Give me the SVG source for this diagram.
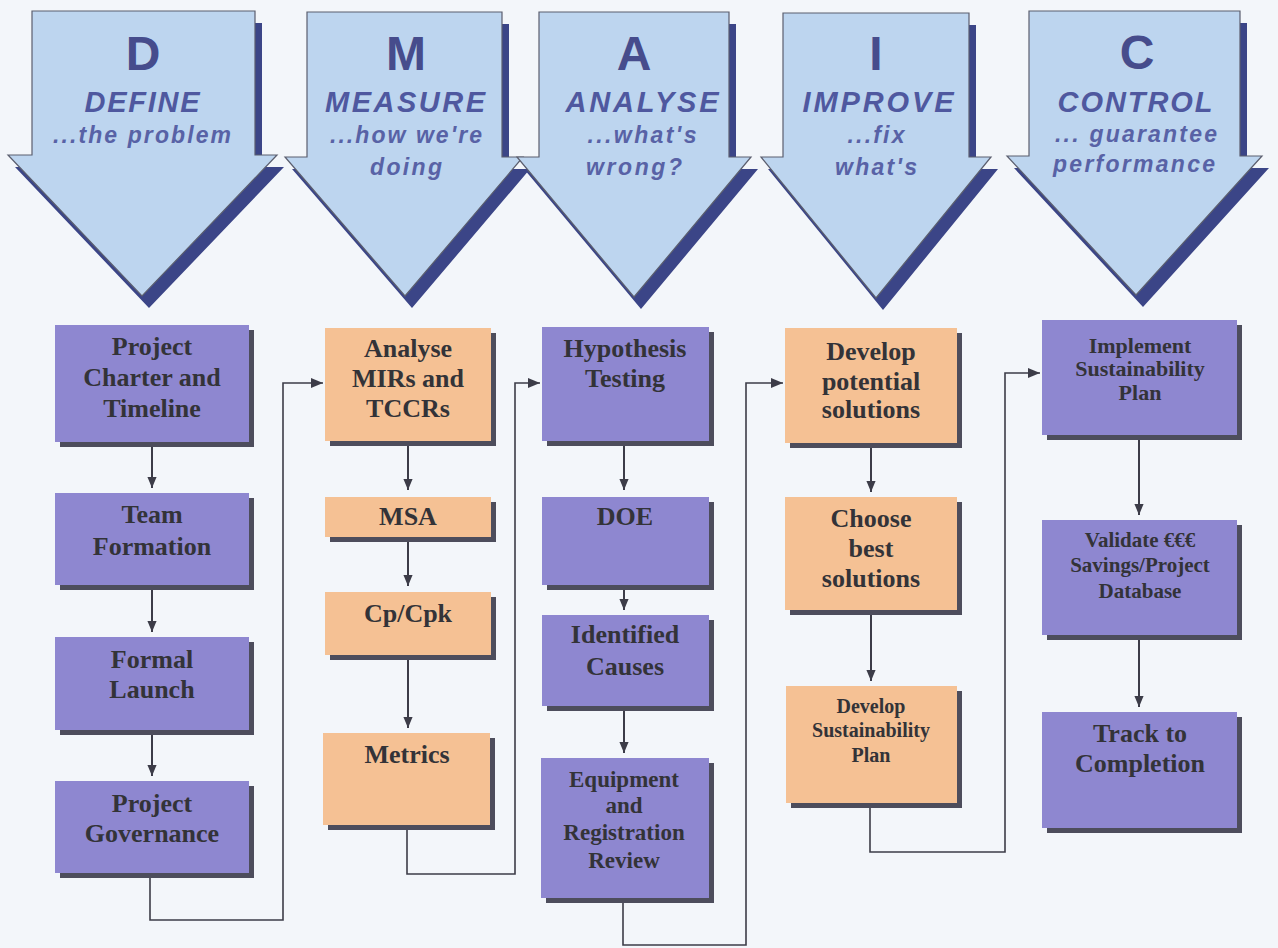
<svg xmlns="http://www.w3.org/2000/svg" width="1278" height="948" viewBox="0 0 1278 948">
<style>
.bg{fill:#f3f6fa}
.arr{fill:#bdd5ef;stroke:#5b5e6e;stroke-width:1.2}
.ash{fill:#3b4587}
.big{font-family:"Liberation Sans",Arial,sans-serif;font-weight:bold;font-size:48px;fill:#464c8c;text-anchor:middle}
.ttl{font-family:"Liberation Sans",Arial,sans-serif;font-weight:bold;font-style:italic;font-size:29px;fill:#4f589f;text-anchor:middle}
.sub{font-family:"Liberation Sans",Arial,sans-serif;font-weight:bold;font-style:italic;font-size:23px;fill:#5862a6;text-anchor:middle}
.pu{fill:#8e87d0}
.or{fill:#f5c194}
.sh{fill:#4d4d5c}
.bt{font-family:"Liberation Serif","Times New Roman",serif;font-weight:bold;font-size:26px;fill:#333338;text-anchor:middle}
.s23{font-size:23px}
.s22{font-size:22px}
.s21{font-size:21px}
.s20{font-size:20px}
.ln{fill:none;stroke:#3c3c48;stroke-width:1.6}
.vl{fill:none;stroke:#3c3c48;stroke-width:2}
</style>
<defs>
<marker id="ah" viewBox="0 0 12 10" refX="12" refY="5" markerWidth="12" markerHeight="10" markerUnits="userSpaceOnUse" orient="auto">
<path d="M0,0 L12,5 L0,10 z" fill="#3c3c48"/>
</marker>
<marker id="av" viewBox="0 0 12 10" refX="12" refY="5" markerWidth="11" markerHeight="11" markerUnits="userSpaceOnUse" orient="auto">
<path d="M0,0 L12,5 L0,10 z" fill="#3c3c48"/>
</marker>
</defs>
<rect class="bg" x="0" y="0" width="1278" height="948"/>

<g id="phase-D">
<polygon class="ash" transform="translate(7,12)" points="32,11 255,11 255,155 277,155 142,296 8,155 32,155"/>
<polygon class="arr" points="32,11 255,11 255,155 277,155 142,296 8,155 32,155"/>
<text class="big" x="143" y="70">D</text>
<text class="ttl" x="142" y="112" textLength="115" lengthAdjust="spacing">DEFINE</text>
<text class="sub" x="142" y="143" textLength="178" lengthAdjust="spacing">...the problem</text>
</g>
<g id="phase-M">
<polygon class="ash" transform="translate(7,12)" points="307,12 502,12 502,157 523,157 405,296 285,157 307,157"/>
<polygon class="arr" points="307,12 502,12 502,157 523,157 405,296 285,157 307,157"/>
<text class="big" x="406" y="70">M</text>
<text class="ttl" x="405" y="112" textLength="160" lengthAdjust="spacing">MEASURE</text>
<text class="sub" x="406" y="143" textLength="152" lengthAdjust="spacing">...how we're</text>
<text class="sub" x="406" y="175" textLength="72" lengthAdjust="spacing">doing</text>
</g>
<g id="phase-A">
<polygon class="ash" transform="translate(7,12)" points="539,12 729,12 729,157 751,157 634,297 517,157 539,157"/>
<polygon class="arr" points="539,12 729,12 729,157 751,157 634,297 517,157 539,157"/>
<text class="big" x="634" y="70">A</text>
<text class="ttl" x="642" y="112" textLength="153" lengthAdjust="spacing">ANALYSE</text>
<text class="sub" x="642" y="143" textLength="109" lengthAdjust="spacing">...what's</text>
<text class="sub" x="634" y="175" textLength="96" lengthAdjust="spacing">wrong?</text>
</g>
<g id="phase-I">
<polygon class="ash" transform="translate(7,12)" points="783,13 969,13 969,157 991,157 876,298 761,157 783,157"/>
<polygon class="arr" points="783,13 969,13 969,157 991,157 876,298 761,157 783,157"/>
<text class="big" x="876" y="70">I</text>
<text class="ttl" x="878" y="112" textLength="151" lengthAdjust="spacing">IMPROVE</text>
<text class="sub" x="876" y="143" textLength="57" lengthAdjust="spacing">...fix</text>
<text class="sub" x="876" y="175" textLength="82" lengthAdjust="spacing">what's</text>
</g>
<g id="phase-C">
<polygon class="ash" transform="translate(7,12)" points="1029,11 1240,11 1240,156 1262,156 1136,295 1007,156 1029,156"/>
<polygon class="arr" points="1029,11 1240,11 1240,156 1262,156 1136,295 1007,156 1029,156"/>
<text class="big" x="1137" y="69">C</text>
<text class="ttl" x="1135" y="112" textLength="155" lengthAdjust="spacing">CONTROL</text>
<text class="sub" x="1136" y="142" textLength="162" lengthAdjust="spacing">... guarantee</text>
<text class="sub" x="1134" y="172" textLength="162" lengthAdjust="spacing">performance</text>
</g>

<g id="connectors">
<line class="vl" x1="152" y1="447" x2="152" y2="488" marker-end="url(#av)"/>
<line class="vl" x1="152" y1="590" x2="152" y2="632" marker-end="url(#av)"/>
<line class="vl" x1="152" y1="735" x2="152" y2="776" marker-end="url(#av)"/>
<line class="vl" x1="408" y1="446" x2="408" y2="490" marker-end="url(#av)"/>
<line class="vl" x1="408" y1="541" x2="408" y2="586" marker-end="url(#av)"/>
<line class="vl" x1="408" y1="660" x2="408" y2="728" marker-end="url(#av)"/>
<line class="vl" x1="624" y1="446" x2="624" y2="490" marker-end="url(#av)"/>
<line class="vl" x1="624" y1="590" x2="624" y2="610" marker-end="url(#av)"/>
<line class="vl" x1="624" y1="711" x2="624" y2="753" marker-end="url(#av)"/>
<line class="vl" x1="871" y1="448" x2="871" y2="492" marker-end="url(#av)"/>
<line class="vl" x1="871" y1="615" x2="871" y2="681" marker-end="url(#av)"/>
<line class="vl" x1="1139" y1="440" x2="1139" y2="515" marker-end="url(#av)"/>
<line class="vl" x1="1139" y1="640" x2="1139" y2="707" marker-end="url(#av)"/>
<path class="ln" d="M150,878 V920 H283 V383 H323" marker-end="url(#ah)"/>
<path class="ln" d="M407,830 V874 H515 V383 H540" marker-end="url(#ah)"/>
<path class="ln" d="M623,903 V945 H746 V383 H783" marker-end="url(#ah)"/>
<path class="ln" d="M870,808 V852 H1005 V373 H1040" marker-end="url(#ah)"/>
</g>

<g id="n-charter"><rect class="sh" x="60" y="330" width="194" height="117"/><rect class="pu" x="55" y="325" width="194" height="117"/>
<text class="bt" x="152"><tspan x="152" y="355">Project</tspan><tspan x="152" y="386">Charter and</tspan><tspan x="152" y="417">Timeline</tspan></text></g>
<g id="n-team"><rect class="sh" x="60" y="498" width="194" height="92"/><rect class="pu" x="55" y="493" width="194" height="92"/>
<text class="bt"><tspan x="152" y="523">Team</tspan><tspan x="152" y="555">Formation</tspan></text></g>
<g id="n-launch"><rect class="sh" x="60" y="642" width="194" height="93"/><rect class="pu" x="55" y="637" width="194" height="93"/>
<text class="bt"><tspan x="152" y="668">Formal</tspan><tspan x="152" y="698">Launch</tspan></text></g>
<g id="n-governance"><rect class="sh" x="60" y="786" width="194" height="92"/><rect class="pu" x="55" y="781" width="194" height="92"/>
<text class="bt"><tspan x="152" y="812">Project</tspan><tspan x="152" y="842">Governance</tspan></text></g>

<g id="n-analyse"><rect class="sh" x="330" y="333" width="166" height="113"/><rect class="or" x="325" y="328" width="166" height="113"/>
<text class="bt"><tspan x="408" y="357">Analyse</tspan><tspan x="408" y="387">MIRs and</tspan><tspan x="408" y="417">TCCRs</tspan></text></g>
<g id="n-msa"><rect class="sh" x="330" y="502" width="166" height="40"/><rect class="or" x="325" y="497" width="166" height="40"/>
<text class="bt" x="408" y="525">MSA</text></g>
<g id="n-cpk"><rect class="sh" x="330" y="597" width="166" height="63"/><rect class="or" x="325" y="592" width="166" height="63"/>
<text class="bt" x="408" y="622">Cp/Cpk</text></g>
<g id="n-metrics"><rect class="sh" x="328" y="738" width="167" height="92"/><rect class="or" x="323" y="733" width="167" height="92"/>
<text class="bt" x="407" y="763">Metrics</text></g>

<g id="n-hypothesis"><rect class="sh" x="547" y="332" width="167" height="114"/><rect class="pu" x="542" y="327" width="167" height="114"/>
<text class="bt"><tspan x="625" y="357">Hypothesis</tspan><tspan x="625" y="387">Testing</tspan></text></g>
<g id="n-doe"><rect class="sh" x="547" y="502" width="167" height="88"/><rect class="pu" x="542" y="497" width="167" height="88"/>
<text class="bt" x="625" y="525">DOE</text></g>
<g id="n-causes"><rect class="sh" x="547" y="620" width="167" height="91"/><rect class="pu" x="542" y="615" width="167" height="91"/>
<text class="bt"><tspan x="625" y="643">Identified</tspan><tspan x="625" y="675">Causes</tspan></text></g>
<g id="n-equipment"><rect class="sh" x="546" y="763" width="168" height="140"/><rect class="pu" x="541" y="758" width="168" height="140"/>
<text class="bt s23"><tspan x="624" y="787">Equipment</tspan><tspan x="624" y="813">and</tspan><tspan x="624" y="840">Registration</tspan><tspan x="624" y="868">Review</tspan></text></g>

<g id="n-develop"><rect class="sh" x="790" y="333" width="172" height="115"/><rect class="or" x="785" y="328" width="172" height="115"/>
<text class="bt"><tspan x="871" y="360">Develop</tspan><tspan x="871" y="390">potential</tspan><tspan x="871" y="418">solutions</tspan></text></g>
<g id="n-choose"><rect class="sh" x="790" y="502" width="172" height="113"/><rect class="or" x="785" y="497" width="172" height="113"/>
<text class="bt"><tspan x="871" y="527">Choose</tspan><tspan x="871" y="557">best</tspan><tspan x="871" y="587">solutions</tspan></text></g>
<g id="n-devplan"><rect class="sh" x="791" y="691" width="171" height="117"/><rect class="or" x="786" y="686" width="171" height="117"/>
<text class="bt s20"><tspan x="871" y="713">Develop</tspan><tspan x="871" y="737">Sustainability</tspan><tspan x="871" y="762">Plan</tspan></text></g>

<g id="n-implement"><rect class="sh" x="1047" y="325" width="195" height="115"/><rect class="pu" x="1042" y="320" width="195" height="115"/>
<text class="bt s22"><tspan x="1140" y="353">Implement</tspan><tspan x="1140" y="376">Sustainability</tspan><tspan x="1140" y="400">Plan</tspan></text></g>
<g id="n-validate"><rect class="sh" x="1047" y="525" width="195" height="115"/><rect class="pu" x="1042" y="520" width="195" height="115"/>
<text class="bt s21"><tspan x="1140" y="547">Validate €€€</tspan><tspan x="1140" y="572">Savings/Project</tspan><tspan x="1140" y="598">Database</tspan></text></g>
<g id="n-track"><rect class="sh" x="1047" y="717" width="195" height="116"/><rect class="pu" x="1042" y="712" width="195" height="116"/>
<text class="bt"><tspan x="1140" y="742">Track to</tspan><tspan x="1140" y="772">Completion</tspan></text></g>
</svg>
